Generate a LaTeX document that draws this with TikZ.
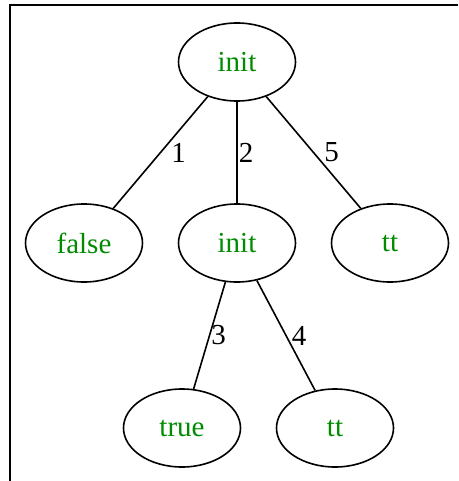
\documentclass[tikz,border=0pt]{standalone}
\usepackage{fontspec}
\setmainfont{Liberation Serif}
\usetikzlibrary{shapes.geometric,positioning}

\definecolor{labelgreen}{RGB}{0,139,0}

\tikzset{
  state/.style={draw, ellipse, line width=1.6pt, minimum width=117pt,
    minimum height=78pt, inner sep=0pt, text=labelgreen,
    font=\fontsize{29}{30}\selectfont},
  edge/.style={line width=1.6pt},
  elabel/.style={midway, anchor=west, inner sep=0pt,
    font=\fontsize{29}{30}\selectfont}
}

\begin{document}
\begin{tikzpicture}[x=1pt,y=1pt]
  \useasboundingbox (0,0) rectangle (458,-481);
  \draw[line width=1.6pt](458,-5)--(10,-5)--(10,-481);

  \node[state](init0) at (237,-62){init};
  \node[state](false) at (84,-243){false};
  \node[state](init1) at (237,-243){init};
  \node[state](tt0) at (390,-243){tt};
  \node[state](true) at (182,-428){true};
  \node[state](tt1) at (335,-428){tt};

  \draw[edge](init0)--(false)node[elabel, xshift=10pt]{1};
  \draw[edge](init0)--(init1)node[elabel, xshift=1pt]{2};
  \draw[edge](init0)--(tt0)node[elabel, xshift=10pt]{5};
  \draw[edge](init1)--(true)node[elabel, xshift=1pt]{3};
  \draw[edge](init1)--(tt1)node[elabel, xshift=5pt]{4};
\end{tikzpicture}
\end{document}
